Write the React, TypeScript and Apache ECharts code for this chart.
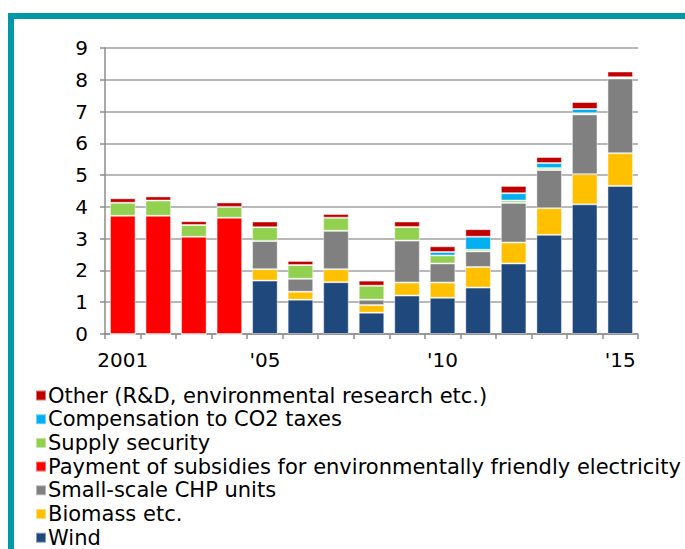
import React, { useEffect, useRef } from "react";
import * as echarts from "echarts";

const categories = ["2001","2002","2003","2004","2005","2006","2007","2008","2009","2010","2011","2012","2013","2014","2015"];
const xTickLabels = ["2001","","","","'05","","","","","'10","","","","","'15"];
const yTicks = [0, 9, 1];

const wind =     [0,    0,    0,    0,    1.68, 1.08, 1.63, 0.67, 1.21, 1.14, 1.46, 2.22, 3.12, 4.08, 4.66];
const biomass =  [0,    0,    0,    0,    0.36, 0.25, 0.41, 0.24, 0.41, 0.48, 0.65, 0.66, 0.84, 0.95, 1.03];
const chp =      [0,    0,    0,    0,    0.89, 0.41, 1.21, 0.17, 1.32, 0.60, 0.49, 1.25, 1.20, 1.88, 2.35];
const payment =  [3.72, 3.72, 3.06, 3.66, 0,    0,    0,    0,    0,    0,    0,    0,    0,    0,    0];
const supply =   [0.41, 0.48, 0.37, 0.34, 0.43, 0.43, 0.41, 0.44, 0.43, 0.25, 0.05, 0.07, 0.06, 0.04, 0.04];
const co2 =      [0,    0,    0,    0,    0,    0,    0,    0,    0,    0.11, 0.41, 0.23, 0.16, 0.13, 0];
const other =    [0.14, 0.13, 0.12, 0.14, 0.18, 0.13, 0.12, 0.16, 0.17, 0.18, 0.24, 0.23, 0.19, 0.22, 0.18];

const seriesDefs = [
  { name: "Wind", data: wind, color: "#1F497D" },
  { name: "Biomass etc.", data: biomass, color: "#FFC000" },
  { name: "Small-scale CHP units", data: chp, color: "#808080" },
  { name: "Payment of subsidies for environmentally friendly electricity", data: payment, color: "#FF0000" },
  { name: "Supply security", data: supply, color: "#92D050" },
  { name: "Compensation to CO2 taxes", data: co2, color: "#00B0F0" },
  { name: "Other (R&D, environmental research etc.)", data: other, color: "#C00000" },
];

const FONT = "DejaVu Sans";

export default function App() {
  const ref = useRef<HTMLDivElement>(null);
  useEffect(() => {
    if (!ref.current) return;
    const chart = echarts.init(ref.current, null, { renderer: "svg" });
    chart.setOption({
      animation: false,
      backgroundColor: "#ffffff",
      textStyle: { fontFamily: FONT },
      grid: { left: 105, right: 47, top: 48, bottom: 215, containLabel: false },
      graphic: [
        { type: "rect", shape: { x: 8, y: 13, width: 677, height: 6 }, style: { fill: "#0097A7" }, silent: true },
        { type: "rect", shape: { x: 8, y: 13, width: 6, height: 536 }, style: { fill: "#0097A7" }, silent: true },
      ],
      legend: {
        orient: "vertical",
        left: 35,
        top: 385,
        height: 220,
        padding: 0,
        itemWidth: 10,
        itemHeight: 10,
        itemGap: 2.7,
        icon: "rect",
        data: seriesDefs.map((s) => s.name).reverse(),
        textStyle: { fontFamily: FONT, fontSize: 21, color: "#000", lineHeight: 20, padding: [0, 0, 0, -3] },
      },
      xAxis: {
        type: "category",
        data: categories,
        axisLine: { lineStyle: { color: "#8c8c8c", width: 1.5 } },
        axisTick: { show: true, length: 5, lineStyle: { color: "#8c8c8c", width: 1.5 } },
        axisLabel: {
          interval: 0,
          margin: 16,
          fontFamily: FONT,
          fontSize: 20,
          color: "#000",
          formatter: (_v: string, i: number) => xTickLabels[i],
        },
      },
      yAxis: {
        type: "value",
        min: yTicks[0],
        max: yTicks[1],
        interval: yTicks[2],
        axisLine: { show: true, lineStyle: { color: "#8c8c8c", width: 1.5 } },
        axisTick: { show: true, length: 5, lineStyle: { color: "#8c8c8c", width: 1.5 } },
        splitLine: { lineStyle: { color: "#a0a0a0", width: 1.5 } },
        axisLabel: { margin: 17, fontFamily: FONT, fontSize: 20, color: "#000" },
      },
      series: seriesDefs.map((s) => ({
        name: s.name,
        type: "bar",
        stack: "total",
        data: s.data,
        barCategoryGap: "28%",
        itemStyle: { color: s.color, borderColor: "rgba(255,255,255,0.45)", borderWidth: 1 },
      })),
    });
    return () => chart.dispose();
  }, []);
  return <div ref={ref} style={{ position: "fixed", left: 0, top: 0, width: 685, height: 549 }} />;
}
